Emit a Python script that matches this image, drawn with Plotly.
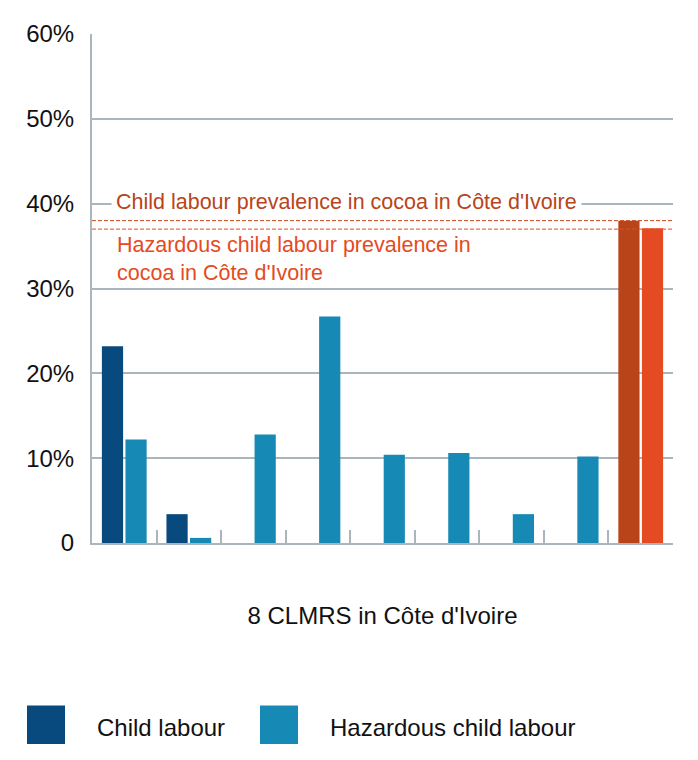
import plotly.graph_objects as go

categories = ["CLMRS 1", "CLMRS 2", "CLMRS 3", "CLMRS 4", "CLMRS 5",
              "CLMRS 6", "CLMRS 7", "CLMRS 8", "Cocoa Côte d'Ivoire"]
child_labour = [23.2, 3.4, None, None, None, None, None, None, 38.0]
hazardous = [12.2, 0.6, 12.8, 26.7, 10.4, 10.6, 3.4, 10.2, 37.1]
ref_values = [38.0, 37.0]
ref_labels = ["Child labour prevalence in cocoa in Côte d'Ivoire",
              "Hazardous child labour prevalence in<br>cocoa in Côte d'Ivoire"]
y_ticks = [0, 10, 20, 30, 40, 50, 60]
y_ticktext = ["0", "10%", "20%", "30%", "40%", "50%", "60%"]
legend_names = ["Child labour", "Hazardous child labour"]

DARK = "#084a7e"
LIGHT = "#1689b5"
COCOA_CL = "#b9441a"
COCOA_HCL = "#e54b22"
GRID = "#abb6bc"
TXT = "#111111"
FONT = "Liberation Sans, Arial, sans-serif"

cl_colors = [DARK] * 8 + [COCOA_CL]
hcl_colors = [LIGHT] * 8 + [COCOA_HCL]

# page offset (body margin)
OFF = 8
W, H = 698 - OFF, 760 - OFF
ml = 92 - OFF
mt = 29 - OFF
mr = W - (673 - OFF)
mb = H - (543 - OFF)
pw, ph = W - ml - mr, H - mt - mb


def px_x(x):
    return (x - OFF - ml) / pw


def px_y(y):
    return (H - mb - (y - OFF)) / ph


fig = go.Figure()
fig.add_trace(go.Bar(x=categories, y=child_labour, name=legend_names[0],
                     marker=dict(color=cl_colors, line=dict(width=0)),
                     showlegend=False))
fig.add_trace(go.Bar(x=categories, y=hazardous, name=legend_names[1],
                     marker=dict(color=hcl_colors, line=dict(width=0)),
                     showlegend=False))

ref_colors = ["#c9481d", COCOA_HCL]
for v, c in zip(ref_values, ref_colors):
    fig.add_shape(type="line", xref="paper", x0=0, x1=1, yref="y", y0=v, y1=v,
                  line=dict(color=c, width=1, dash="4px,2px"), layer="above")

# reference labels
fig.add_annotation(text=ref_labels[0], xref="paper", x=px_x(111), xanchor="left",
                   yref="y", y=40.2, yanchor="middle", showarrow=False,
                   font=dict(family=FONT, size=21.5, color=COCOA_CL),
                   bgcolor="white", borderpad=4, align="left")
fig.add_annotation(text=ref_labels[1], xref="paper", x=px_x(115), xanchor="left",
                   yref="y", y=36.75, yanchor="top", showarrow=False,
                   font=dict(family=FONT, size=21.5, color=COCOA_HCL),
                   align="left")

# manual legend
leg_colors = [DARK, LIGHT]
leg_x = [27, 260]
for name, col, lx in zip(legend_names, leg_colors, leg_x):
    fig.add_shape(type="rect", xref="paper", yref="paper",
                  x0=px_x(lx), x1=px_x(lx + 38),
                  y0=px_y(746), y1=px_y(707), fillcolor=col, line=dict(width=0))
    fig.add_annotation(text=name, xref="paper", yref="paper",
                       x=px_x(lx + 68), xanchor="left",
                       y=px_y(729), yanchor="middle", showarrow=False,
                       font=dict(family=FONT, size=24, color=TXT))

fig.update_layout(
    width=W, height=H,
    margin=dict(l=ml, r=mr, t=mt, b=mb),
    paper_bgcolor="white", plot_bgcolor="white",
    barmode="group", bargap=0.27, bargroupgap=0.1,
    font=dict(family=FONT, size=24, color=TXT),
)
fig.update_yaxes(range=[0, 60], tickvals=y_ticks, ticktext=y_ticktext,
                 showgrid=True, gridcolor=GRID, gridwidth=1.5,
                 zeroline=False, showline=True, linecolor=GRID, linewidth=2,
                 ticks="", ticklabelstandoff=11,
                 tickfont=dict(family=FONT, size=24, color=TXT))
fig.update_xaxes(showticklabels=False, showline=True, linecolor=GRID,
                 linewidth=2, ticks="inside", ticklen=13, tickwidth=2,
                 tickcolor=GRID, tickson="boundaries", showgrid=False,
                 title=dict(text="8 CLMRS in Côte d'Ivoire", standoff=63,
                            font=dict(family=FONT, size=24, color=TXT)))

fig.write_html("out.html")
